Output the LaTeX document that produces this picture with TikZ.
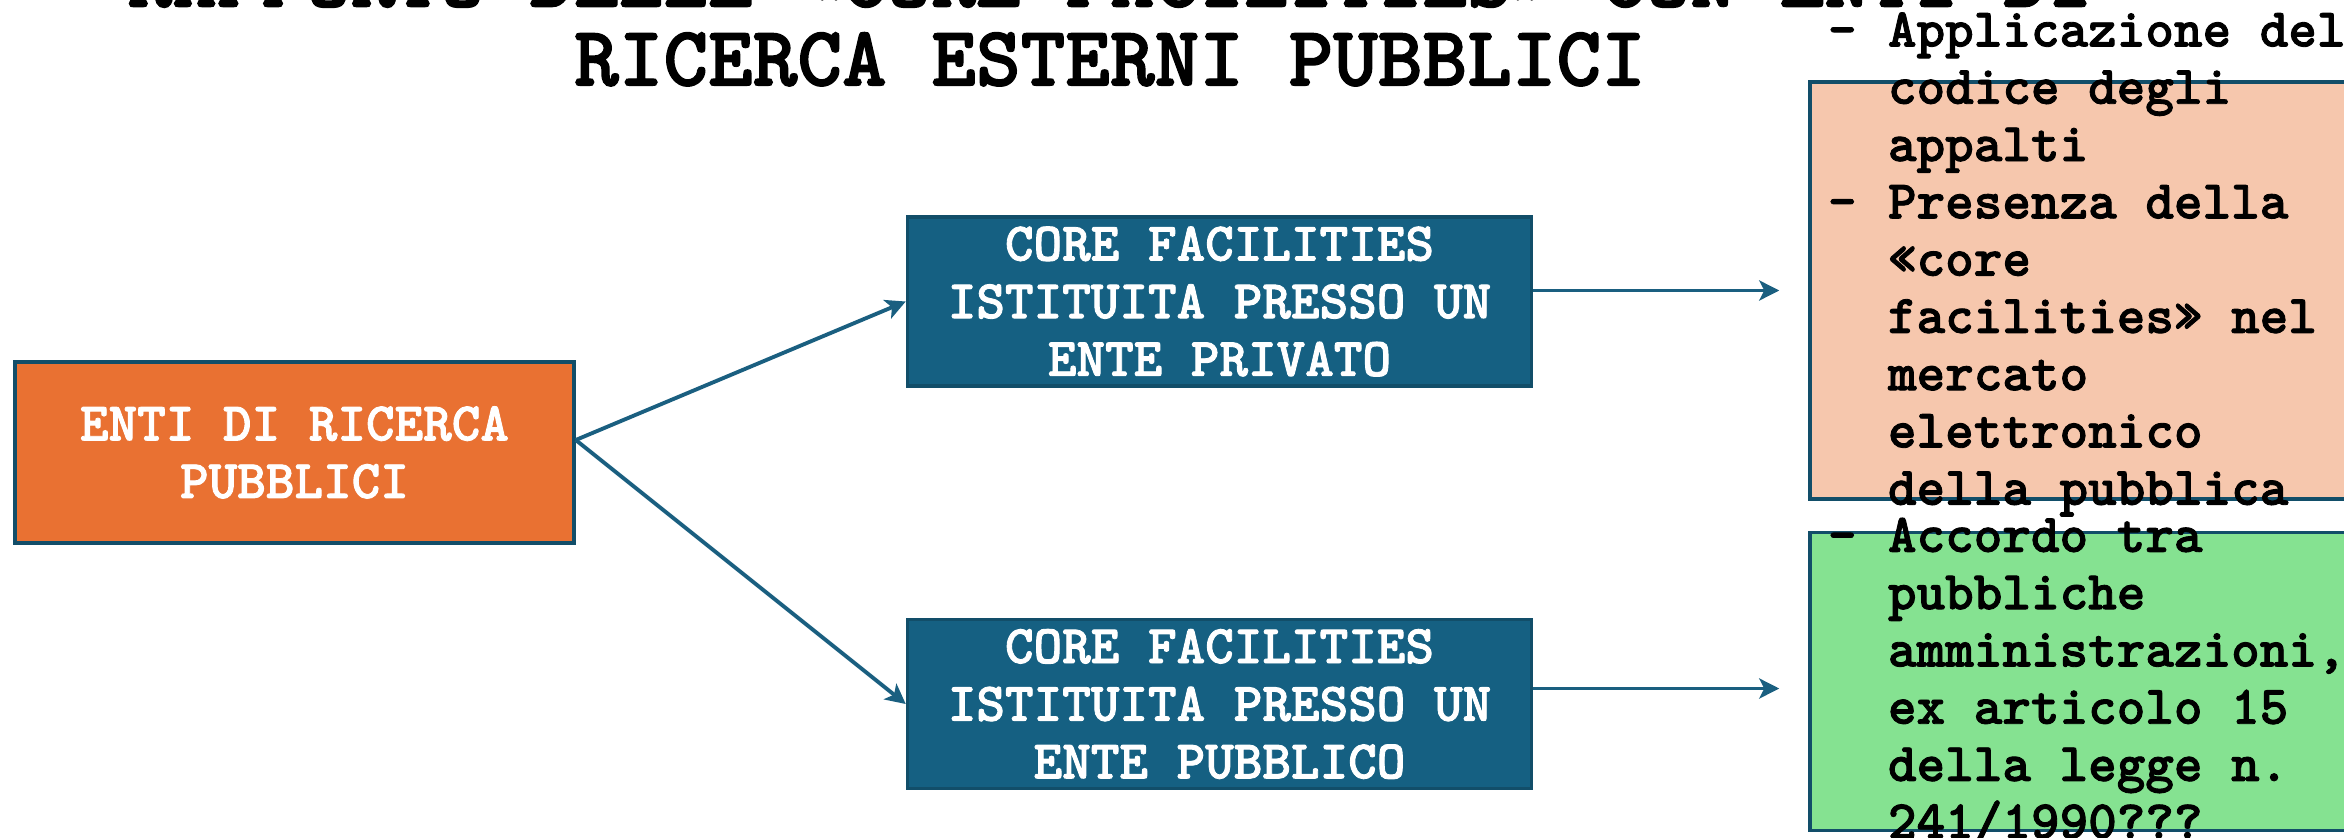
\documentclass[tikz,border=0pt]{standalone}
\usepackage{fontspec}
\newfontfamily\macchina{lmmonolt10-bold.otf}[FakeBold=1.6]
\usetikzlibrary{arrows.meta, positioning}
\definecolor{coreBlue}{HTML}{156082}
\definecolor{edgeBlue}{HTML}{124E69}
\definecolor{entiOrange}{HTML}{E97132}
\definecolor{peach}{HTML}{F6C7AD}
\definecolor{lightGreen}{HTML}{85E291}
\definecolor{arrowBlue}{HTML}{1A5F80}
\newcommand{\trattino}{\makebox[6mm][l]{-}}
\newcommand{\rientro}{\hspace*{6mm}}
\tikzset{%
  >={Stealth[length=2mm,width=2mm,inset=0.5mm]},
  % Specifications for style of nodes:
    base/.style = {rectangle, draw=edgeBlue, line width=1pt, inner sep=0pt,
                   text centered, font=\macchina\fontsize{15.5}{16.4}\selectfont},
    entiBox/.style = {base, fill=entiOrange, text=white, minimum width=5.59cm,
                   minimum height=1.81cm, align=center},
    coreBox/.style = {base, fill=coreBlue, text=white, minimum width=6.24cm,
                   minimum height=1.69cm, align=center},
    listBox/.style = {base, minimum width=5.6cm},
    listText/.style = {font=\macchina\fontsize{15.5}{16.3}\selectfont,
                   align=left, inner sep=0pt, anchor=base west},
    link/.style = {->, draw=arrowBlue, line width=1.1pt},
}
\begin{document}
\begin{tikzpicture}[node distance=1.5cm]
  \useasboundingbox (0,0) rectangle (23.44,8.37);
  \clip (0,0) rectangle (23.44,8.37);

  \node (titolo)  [font=\macchina\fontsize{24.2}{22.4}\selectfont, align=center,
                   inner sep=0pt, anchor=south] at (11.1,7.5)
                   {RAPPORTO DELLE «CORE FACILITIES» CON ENTI DI\\RICERCA ESTERNI PUBBLICI};
  \node (enti)    [entiBox] at (2.945,3.845) {ENTI DI RICERCA\\PUBBLICI};
  \node (privato) [coreBox, right=3.3cm of enti.east, yshift=1.51cm]
                   {CORE FACILITIES\\ISTITUITA PRESSO UN\\ENTE PRIVATO};
  \node (pubblico) [coreBox, below=2.3cm of privato]
                   {CORE FACILITIES\\ISTITUITA PRESSO UN\\ENTE PUBBLICO};
  \node (appalti) [listBox, fill=peach, minimum height=4.17cm,
                   right=2.75cm of privato, yshift=0.11cm] {};
  % the base of a multi-line node is the base of its last line
  \node (appaltiText) [listText] at ([xshift=0.19cm, yshift=-0.04cm]appalti.south west)
                   {\trattino Applicazione del\\\rientro codice degli\\\rientro appalti\\
                    \trattino Presenza della\\\rientro «core\\\rientro facilities» nel\\
                    \rientro mercato\\\rientro elettronico\\\rientro della pubblica};
  \node (accordo) [listBox, fill=lightGreen, minimum height=2.98cm,
                   right=2.75cm of pubblico, yshift=0.225cm] {};
  \node (accordoText) [listText] at ([xshift=0.19cm, yshift=-0.06cm]accordo.south west)
                   {\trattino Accordo tra\\\rientro pubbliche\\\rientro amministrazioni,\\
                    \rientro ex articolo 15\\\rientro della legge n.\\\rientro 241/1990???};

  \coordinate[left=0.29cm of appalti.west] (privEnd);
  \coordinate[left=0.29cm of accordo.west, yshift=-0.07cm] (pubbEnd);

  % Specification of lines between nodes
  \draw[link]     ([yshift=1.25mm]enti.east) -- (privato.west);
  \draw[link]     ([yshift=1.25mm]enti.east) -- (pubblico.west);
  \draw[link]     (privato.east |- privEnd) -- (privEnd);
  \draw[link]     (pubblico.east |- pubbEnd) -- (pubbEnd);
\end{tikzpicture}
\end{document}
